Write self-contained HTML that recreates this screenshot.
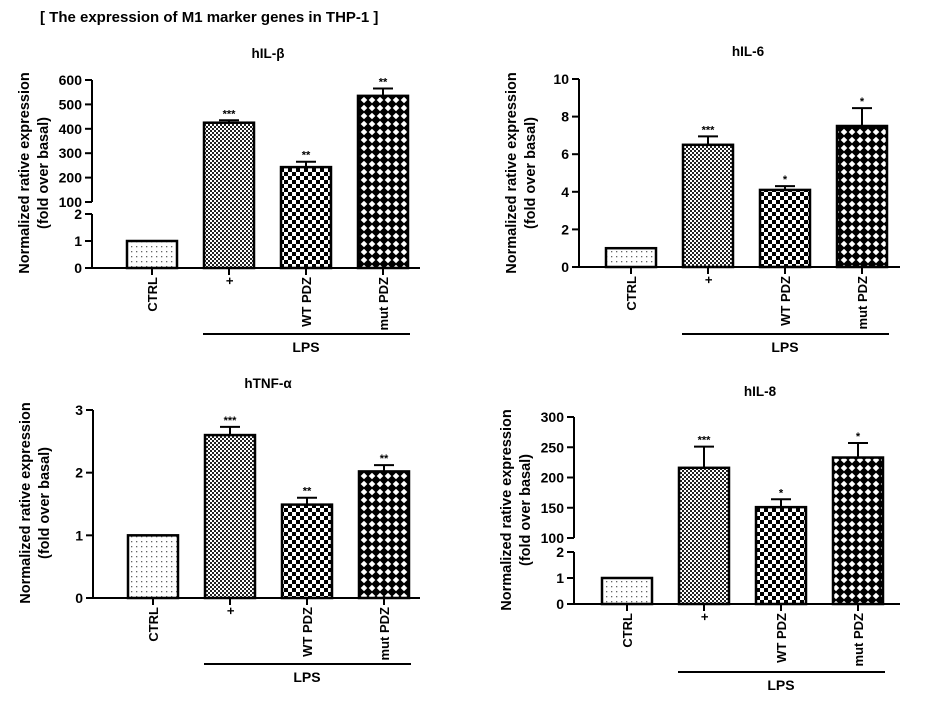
<!DOCTYPE html>
<html><head><meta charset="utf-8"><style>
body{margin:0;background:#fff;width:934px;height:705px;overflow:hidden}
svg text{font-family:"Liberation Sans",sans-serif;font-weight:bold;fill:#000}
</style></head><body>
<svg id="c" width="934" height="705">
<defs>
<pattern id="pDots" width="5" height="5" patternUnits="userSpaceOnUse"><rect width="5" height="5" fill="#fff"/><rect x="1" y="1" width="1.3" height="1.3" fill="#666"/></pattern>
<pattern id="pFine" width="4" height="4" patternUnits="userSpaceOnUse"><rect width="4" height="4" fill="#fff"/><rect width="2" height="2" fill="#222"/><rect x="2" y="2" width="2" height="2" fill="#222"/></pattern>
<pattern id="pBig" width="8" height="8" patternUnits="userSpaceOnUse"><rect width="8" height="8" fill="#fff"/><rect width="4" height="4" fill="#000"/><rect x="4" y="4" width="4" height="4" fill="#000"/></pattern>
<pattern id="pDia" width="8" height="8" patternUnits="userSpaceOnUse"><rect width="8" height="8" fill="#000"/><polygon points="4,0.7 7.3,4 4,7.3 0.7,4" fill="#fff"/></pattern>
</defs>
<text x="40" y="22" font-size="15">[ The expression of M1 marker genes in THP-1 ]</text>
</svg>
<script>
const categories = ["CTRL","+","WT PDZ","mut PDZ"];
const il1bValues = [1,425,243,535];
const il1bErr = [0,435,265,565];
const il1bStars = ["","***","**","**"];
const il6Values = [1,6.5,4.1,7.5];
const il6Err = [0,6.95,4.3,8.45];
const il6Stars = ["","***","*","*"];
const tnfValues = [1,2.6,1.49,2.02];
const tnfErr = [0,2.73,1.6,2.12];
const tnfStars = ["","***","**","**"];
const il8Values = [1,216,151,233];
const il8Err = [0,251,164,257];
const il8Stars = ["","***","*","*"];
const il1bUpperTicks = [100,200,300,400,500,600];
const il8UpperTicks = [100,150,200,250,300];
const lowerTicks = [0,1,2];
const il6Ticks = [0,2,4,6,8,10];
const tnfTicks = [0,1,2,3];

const svg=document.getElementById('c');
const NS='http://www.w3.org/2000/svg';
const fills=['url(#pDots)','url(#pFine)','url(#pBig)','url(#pDia)'];
function el(tag,attrs,parent){const e=document.createElementNS(NS,tag);for(const k in attrs)e.setAttribute(k,attrs[k]);(parent||svg).appendChild(e);return e;}

function panel(cfg){
  const g=el('g',{});
  
  
  let y;
  if(cfg.broken){
    const b=cfg.broken;
    y=v=> v<=b.lowMax ? b.y0-(v/b.lowMax)*(b.y0-b.yLowTop) : b.yBreak-(v-b.upMin)/(b.upMax-b.upMin)*(b.yBreak-b.yTop);
  } else {
    y=v=> cfg.y0-(v/cfg.max)*(cfg.y0-cfg.yTop);
  }
  const ax=cfg.ax;
  const t=el('text',{x:cfg.titleX,y:cfg.titleY,'font-size':13.5,'text-anchor':'middle'},g);
  t.textContent=cfg.title;
  
  
  const cy=cfg.labelY;
  const l1=el('text',{x:0,y:0,'font-size':14.5,'text-anchor':'middle',transform:`translate(${ax-63},${cy}) rotate(-90)`},g);
  l1.textContent='Normalized rative expression';
  
  
  const l2=el('text',{x:0,y:0,'font-size':14.5,'text-anchor':'middle',transform:`translate(${ax-44},${cy}) rotate(-90)`},g);
  l2.textContent='(fold over basal)';
  
  
  const drawTicks=(ticks)=>ticks.forEach(v=>{
    const yy=y(v);
    const tk=el('line',{x1:ax-7,x2:ax,y1:yy,y2:yy,stroke:'#000','stroke-width':2},g);
    
    
    const tl=el('text',{x:ax-10,y:yy+5,'font-size':14,'text-anchor':'end'},g);
    tl.textContent=v;
    
    
  });
  if(cfg.broken){
    const b=cfg.broken;
    const a1=el('line',{x1:ax,x2:ax,y1:b.yTop,y2:b.yBreak,stroke:'#000','stroke-width':2},g);
    
    
    const a2=el('line',{x1:ax,x2:ax,y1:b.yLowTop,y2:b.y0,stroke:'#000','stroke-width':2},g);
    
    
    drawTicks(cfg.upperTicks);drawTicks(lowerTicks);
  } else {
    const a=el('line',{x1:ax,x2:ax,y1:cfg.yTop,y2:cfg.y0,stroke:'#000','stroke-width':2},g);
    
    
    drawTicks(cfg.ticks);
  }
  const y0=y(0);
  const xa=el('line',{x1:ax-7,x2:cfg.axEnd,y1:y0,y2:y0,stroke:'#000','stroke-width':2},g);
  
  
  const bw=50, step=cfg.step;
  categories.forEach((c,i)=>{
    const x=cfg.firstBar+i*step, cx=x+bw/2;
    const v=cfg.values[i], e=cfg.err[i];
    if(e>v){
      const el1=el('line',{x1:cx,x2:cx,y1:y(e),y2:y(v),stroke:'#000','stroke-width':2},g);
      
      
      const el2=el('line',{x1:cx-10,x2:cx+10,y1:y(e),y2:y(e),stroke:'#000','stroke-width':2},g);
      
      
    }
    const r=el('rect',{x:x,y:y(v),width:bw,height:y0-y(v),fill:fills[i],stroke:'#000','stroke-width':2.5},g);
    
    
    if(cfg.stars[i]){
      const s=el('text',{x:cx,y:y(e>v?e:v)-3,'font-size':11,'text-anchor':'middle'},g);
      s.textContent=cfg.stars[i];
      
      
    }
    const tk=el('line',{x1:cx,x2:cx,y1:y0,y2:y0+7,stroke:'#000','stroke-width':2},g);
    
    
    const tl=el('text',{x:0,y:0,'font-size':13,'text-anchor':'end',transform:`translate(${cx+5},${y0+9}) rotate(-90)`},g);
    tl.textContent=c;
    
    
  });
  const ll=el('line',{x1:cfg.firstBar+step-1,x2:cfg.firstBar+3*step+bw+2,y1:cfg.lpsY,y2:cfg.lpsY,stroke:'#000','stroke-width':2},g);
  
  
  const lt=el('text',{x:cfg.firstBar+2*step+bw/2,y:cfg.lpsY+18,'font-size':14,'text-anchor':'middle'},g);
  lt.textContent='LPS';
  
  
}

panel({name:'il1b',title:'hIL-β',titleX:268,titleY:58,ax:92,axEnd:420,firstBar:127,step:77,labelY:173,lpsY:334,
  values:il1bValues,err:il1bErr,stars:il1bStars,upperTicks:il1bUpperTicks,
  broken:{y0:268,yLowTop:214,lowMax:2,yBreak:202,yTop:80,upMin:100,upMax:600}});
panel({name:'il6',title:'hIL-6',titleX:748,titleY:56,ax:579,axEnd:900,firstBar:606,step:77,labelY:173,lpsY:334,
  values:il6Values,err:il6Err,stars:il6Stars,ticks:il6Ticks,y0:267,yTop:79,max:10});
panel({name:'tnf',title:'hTNF-α',titleX:268,titleY:388,ax:93,axEnd:420,firstBar:128,step:77,labelY:503,lpsY:664,
  values:tnfValues,err:tnfErr,stars:tnfStars,ticks:tnfTicks,y0:598,yTop:410,max:3});
panel({name:'il8',title:'hIL-8',titleX:760,titleY:396,ax:574,axEnd:900,firstBar:602,step:77,labelY:510,lpsY:672,
  values:il8Values,err:il8Err,stars:il8Stars,upperTicks:il8UpperTicks,
  broken:{y0:604,yLowTop:552,lowMax:2,yBreak:538,yTop:417,upMin:100,upMax:300}});
</script>
</body></html>
